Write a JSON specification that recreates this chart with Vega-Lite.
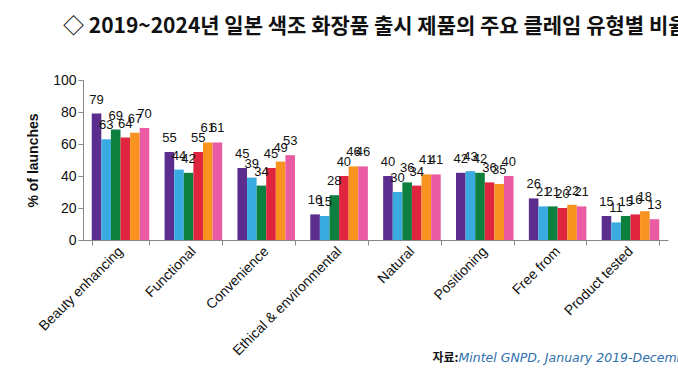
{
  "$schema": "https://vega.github.io/schema/vega-lite/v6.json",
  "width": 585,
  "height": 160,
  "autosize": {"type": "none"},
  "padding": {"left": 83, "top": 80, "right": 10, "bottom": 142},
  "background": "white",
  "title": {
    "text": "◇ 2019~2024년 일본 색조 화장품 출시 제품의 주요 클레임 유형별 비율",
    "anchor": "start",
    "frame": "group",
    "dx": -20,
    "offset": 36,
    "font": "Noto Sans CJK KR",
    "fontSize": 21,
    "fontWeight": "bold",
    "color": "#111111"
  },
  "config": {
    "view": {"stroke": null},
    "font": "Liberation Sans"
  },
  "data": {
    "values": [
      {"category": "Beauty enhancing", "year": "2019", "value": 79},
      {"category": "Beauty enhancing", "year": "2020", "value": 63},
      {"category": "Beauty enhancing", "year": "2021", "value": 69},
      {"category": "Beauty enhancing", "year": "2022", "value": 64},
      {"category": "Beauty enhancing", "year": "2023", "value": 67},
      {"category": "Beauty enhancing", "year": "2024", "value": 70},
      {"category": "Functional", "year": "2019", "value": 55},
      {"category": "Functional", "year": "2020", "value": 44},
      {"category": "Functional", "year": "2021", "value": 42},
      {"category": "Functional", "year": "2022", "value": 55},
      {"category": "Functional", "year": "2023", "value": 61},
      {"category": "Functional", "year": "2024", "value": 61},
      {"category": "Convenience", "year": "2019", "value": 45},
      {"category": "Convenience", "year": "2020", "value": 39},
      {"category": "Convenience", "year": "2021", "value": 34},
      {"category": "Convenience", "year": "2022", "value": 45},
      {"category": "Convenience", "year": "2023", "value": 49},
      {"category": "Convenience", "year": "2024", "value": 53},
      {"category": "Ethical & environmental", "year": "2019", "value": 16},
      {"category": "Ethical & environmental", "year": "2020", "value": 15},
      {"category": "Ethical & environmental", "year": "2021", "value": 28},
      {"category": "Ethical & environmental", "year": "2022", "value": 40},
      {"category": "Ethical & environmental", "year": "2023", "value": 46},
      {"category": "Ethical & environmental", "year": "2024", "value": 46},
      {"category": "Natural", "year": "2019", "value": 40},
      {"category": "Natural", "year": "2020", "value": 30},
      {"category": "Natural", "year": "2021", "value": 36},
      {"category": "Natural", "year": "2022", "value": 34},
      {"category": "Natural", "year": "2023", "value": 41},
      {"category": "Natural", "year": "2024", "value": 41},
      {"category": "Positioning", "year": "2019", "value": 42},
      {"category": "Positioning", "year": "2020", "value": 43},
      {"category": "Positioning", "year": "2021", "value": 42},
      {"category": "Positioning", "year": "2022", "value": 36},
      {"category": "Positioning", "year": "2023", "value": 35},
      {"category": "Positioning", "year": "2024", "value": 40},
      {"category": "Free from", "year": "2019", "value": 26},
      {"category": "Free from", "year": "2020", "value": 21},
      {"category": "Free from", "year": "2021", "value": 21},
      {"category": "Free from", "year": "2022", "value": 20},
      {"category": "Free from", "year": "2023", "value": 22},
      {"category": "Free from", "year": "2024", "value": 21},
      {"category": "Product tested", "year": "2019", "value": 15},
      {"category": "Product tested", "year": "2020", "value": 11},
      {"category": "Product tested", "year": "2021", "value": 15},
      {"category": "Product tested", "year": "2022", "value": 16},
      {"category": "Product tested", "year": "2023", "value": 18},
      {"category": "Product tested", "year": "2024", "value": 13}
    ]
  },
  "encoding": {
    "x": {
      "field": "category",
      "type": "nominal",
      "sort": ["Beauty enhancing", "Functional", "Convenience", "Ethical & environmental", "Natural", "Positioning", "Free from", "Product tested"],
      "scale": {"paddingInner": 0.21, "paddingOuter": 0.12},
      "axis": {
        "title": "Mintel GNPD, January 2019-December 2024",
        "titleX": 375,
        "titleY": 117,
        "titleAlign": "left",
        "titleAnchor": null,
        "titleBaseline": "middle",
        "titleFont": "DejaVu Sans",
        "titleFontSize": 12.5,
        "titleFontStyle": "italic",
        "titleFontWeight": "normal",
        "titleColor": "#2f6fae",
        "labelAngle": -45,
        "labelAlign": "right",
        "labelBaseline": "middle",
        "labelFontSize": 14,
        "labelColor": "#111111",
        "labelPadding": 4,
        "tickBand": "extent",
        "tickSize": 5,
        "tickColor": "#888888",
        "domainColor": "#888888"
      }
    },
    "xOffset": {"field": "year", "type": "nominal", "scale": {"paddingInner": 0}},
    "y": {
      "field": "value",
      "type": "quantitative",
      "scale": {"domain": [0, 100]},
      "axis": {
        "title": "% of launches",
        "titleFontSize": 14,
        "titleFontWeight": "bold",
        "titleColor": "#111111",
        "titleX": -50,
        "titleY": 80,
        "titleAngle": -90,
        "titleAlign": "center",
        "titleBaseline": "middle",
        "values": [0, 20, 40, 60, 80, 100],
        "labelFontSize": 14,
        "labelColor": "#111111",
        "grid": false,
        "tickSize": 5,
        "tickColor": "#888888",
        "domainColor": "#888888"
      }
    },
    "color": {
      "field": "year",
      "type": "nominal",
      "scale": {"range": ["#5b2d8e", "#3aabe1", "#0d7f3f", "#e0263f", "#f7931e", "#e95ca3"]},
      "legend": null
    }
  },
  "layer": [
    {"mark": {"type": "bar"}},
    {
      "mark": {"type": "text", "baseline": "bottom", "dy": -7, "fontSize": 13, "color": "#111111"},
      "encoding": {
        "text": {"field": "value", "type": "quantitative"},
        "color": {"value": "#111111"},
        "y": {
          "field": "value",
          "type": "quantitative",
          "axis": {
            "orient": "right",
            "title": "자료:",
            "titleAngle": 0,
            "titleX": -236,
            "titleY": 277,
            "titleAlign": "left",
            "titleBaseline": "middle",
            "titleFont": "Noto Sans CJK KR",
            "titleFontSize": 12,
            "titleFontWeight": "bold",
            "titleColor": "#111111",
            "labels": false,
            "ticks": false,
            "domain": false,
            "grid": false
          }
        }
      }
    }
  ],
  "resolve": {"axis": {"y": "independent"}}
}
